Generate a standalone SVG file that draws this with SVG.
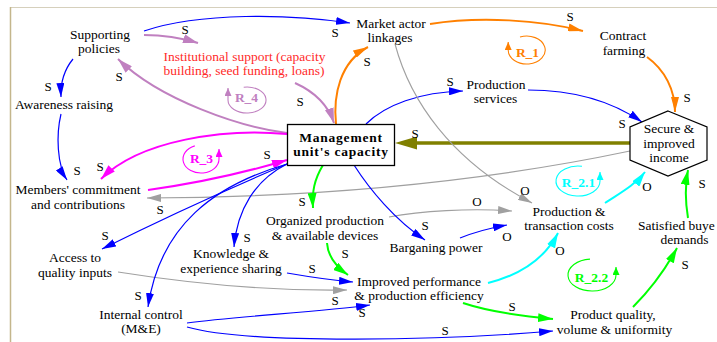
<svg xmlns="http://www.w3.org/2000/svg" width="717" height="342" viewBox="0 0 717 342" font-family="'Liberation Serif', 'Times New Roman', serif">
<style>
text{font-family:"Liberation Serif","Times New Roman",serif;font-size:13.5px;fill:#000;text-anchor:middle}
.lbl{font-size:13px}
.red{fill:#ff2a2a}
.bold{font-weight:bold;letter-spacing:0.8px}
.loop{font-weight:bold;font-size:13.5px}
.b{fill:none;stroke:#0000ff;stroke-width:1.2;marker-end:url(#ab)}
.o{fill:none;stroke:#ff8000;stroke-width:2;marker-end:url(#ao)}
.l{fill:none;stroke:#c080c0;stroke-width:2;marker-end:url(#al)}
.m{fill:none;stroke:#ff00ff;stroke-width:2;marker-end:url(#am)}
.g{fill:none;stroke:#00ff00;stroke-width:2;marker-end:url(#ag)}
.c{fill:none;stroke:#00ffff;stroke-width:2;marker-end:url(#ac)}
.y{fill:none;stroke:#a0a0a0;stroke-width:1.1;marker-end:url(#ay)}
.ol{fill:none;stroke:#808000;stroke-width:3.5;marker-end:url(#aol)}
.lp{fill:none;stroke-width:1.1}
</style>
<defs>
<marker id="ab" markerUnits="userSpaceOnUse" markerWidth="14" markerHeight="8" refX="14" refY="4" orient="auto"><path d="M0,0L14,4L0,8z" fill="#0000ff"/></marker>
<marker id="ao" markerUnits="userSpaceOnUse" markerWidth="15" markerHeight="8" refX="15" refY="4" orient="auto"><path d="M0,0L15,4L0,8z" fill="#ff8000"/></marker>
<marker id="al" markerUnits="userSpaceOnUse" markerWidth="15" markerHeight="9" refX="15" refY="4.5" orient="auto"><path d="M0,0L15,4.5L0,9z" fill="#c080c0"/></marker>
<marker id="am" markerUnits="userSpaceOnUse" markerWidth="15" markerHeight="9" refX="15" refY="4.5" orient="auto"><path d="M0,0L15,4.5L0,9z" fill="#ff00ff"/></marker>
<marker id="ag" markerUnits="userSpaceOnUse" markerWidth="15" markerHeight="9" refX="15" refY="4.5" orient="auto"><path d="M0,0L15,4.5L0,9z" fill="#00ff00"/></marker>
<marker id="ac" markerUnits="userSpaceOnUse" markerWidth="15" markerHeight="9" refX="15" refY="4.5" orient="auto"><path d="M0,0L15,4.5L0,9z" fill="#00ffff"/></marker>
<marker id="ay" markerUnits="userSpaceOnUse" markerWidth="14" markerHeight="8" refX="14" refY="4" orient="auto"><path d="M0,0L14,4L0,8z" fill="#a0a0a0"/></marker>
<marker id="aol" markerUnits="userSpaceOnUse" markerWidth="22" markerHeight="13" refX="10" refY="6.5" orient="auto"><path d="M0,0L22,6.5L0,13z" fill="#808000"/></marker>
<marker id="so" markerUnits="userSpaceOnUse" markerWidth="8" markerHeight="7" refX="8" refY="3.5" orient="auto"><path d="M0,0L8,3.5L0,7z" fill="#ff8000"/></marker>
<marker id="sc" markerUnits="userSpaceOnUse" markerWidth="8" markerHeight="7" refX="8" refY="3.5" orient="auto"><path d="M0,0L8,3.5L0,7z" fill="#00ffff"/></marker>
<marker id="sg" markerUnits="userSpaceOnUse" markerWidth="8" markerHeight="7" refX="8" refY="3.5" orient="auto"><path d="M0,0L8,3.5L0,7z" fill="#00ff00"/></marker>
<marker id="sm" markerUnits="userSpaceOnUse" markerWidth="8" markerHeight="7" refX="8" refY="3.5" orient="auto"><path d="M0,0L8,3.5L0,7z" fill="#ff00ff"/></marker>
<marker id="sl" markerUnits="userSpaceOnUse" markerWidth="8" markerHeight="7" refX="8" refY="3.5" orient="auto"><path d="M0,0L8,3.5L0,7z" fill="#c080c0"/></marker>
</defs>
<rect x="0" y="0" width="717" height="342" fill="#ffffff"/>
<g id="frame">
<line x1="10" y1="7.5" x2="717" y2="7.5" stroke="#d6d0bc" stroke-width="1.2"/>
<line x1="10.5" y1="7" x2="10.5" y2="342" stroke="#c4b68c" stroke-width="1.5"/>
</g>
<g id="connectors">
<path class="b" d="M144,31 C200,12 290,14 350,23"/>
<path class="l" d="M144,35 Q172,35 198,43"/>
<path class="b" d="M73,59 Q60,75 61,97"/>
<path class="b" d="M61,114 C56,135 57,165 67,180"/>
<path class="l" d="M295,83 C315,92 328,105 334,123"/>
<path class="l" d="M287,133 C240,127 160,100 118,59"/>
<path class="m" d="M287,134 C225,128 140,140 101,179"/>
<path class="m" d="M148,190 Q220,180 287,160"/>
<path class="o" d="M336,124 C333,95 340,62 368,47"/>
<path class="o" d="M430,24 C480,16 540,20 583,31"/>
<path class="o" d="M647,57 C665,70 675,90 675,112"/>
<path class="b" d="M366,124 C385,105 420,92 463,91"/>
<path class="b" d="M528,90 C570,90 610,100 642,122"/>
<path class="ol" d="M630,143 L407,143"/>
<path class="y" d="M630,151 Q411,197 147,198"/>
<path class="y" d="M395,44 C410,100 450,160 532,203"/>
<path class="y" d="M389,217 C420,211 470,208 512,211"/>
<path class="b" d="M460,238 C475,232 490,228 507,225"/>
<path class="b" d="M354,165 C370,190 395,220 425,240"/>
<path class="c" d="M605,203 C620,193 635,185 645,172"/>
<path class="c" d="M488,283 C520,275 545,258 558,233"/>
<path class="g" d="M688,218 C685,200 685,185 688,170"/>
<path class="g" d="M633,307 C650,290 665,270 677,248"/>
<path class="g" d="M463,303 C490,312 520,316 553,319"/>
<path class="b" d="M187,327 C250,345 450,340 553,331"/>
<path class="b" d="M187,323 C240,316 320,312 370,305"/>
<path class="y" d="M118,272 C200,285 280,291 347,290"/>
<path class="b" d="M287,273 C310,277 330,280 353,282"/>
<path class="g" d="M327,243 C328,258 338,268 348,275"/>
<path class="g" d="M323,165 C314,180 312,192 313,208"/>
<path class="b" d="M287,164 Q190,205 102,249"/>
<path class="b" d="M287,164 C255,180 237,210 234,247"/>
<path class="b" d="M287,164 C215,185 160,225 148,307"/>
<g id="polarity">
<text class="lbl" x="185" y="34">S</text>
<text class="lbl" x="335" y="37">S</text>
<text class="lbl" x="48" y="90.5">S</text>
<text class="lbl" x="119" y="80.5">S</text>
<text class="lbl" x="300" y="106">S</text>
<text class="lbl" x="267" y="158.5">S</text>
<text class="lbl" x="77" y="174.5">S</text>
<text class="lbl" x="100" y="171">S</text>
<text class="lbl" x="160" y="213.5">S</text>
<text class="lbl" x="105" y="239.5">S</text>
<text class="lbl" x="247" y="242">S</text>
<text class="lbl" x="138" y="299.5">S</text>
<text class="lbl" x="302" y="206">S</text>
<text class="lbl" x="345" y="258">S</text>
<text class="lbl" x="312" y="272.5">S</text>
<text class="lbl" x="335" y="305">S</text>
<text class="lbl" x="362" y="316.5">S</text>
<text class="lbl" x="445" y="334.5">S</text>
<text class="lbl" x="425" y="229.5">S</text>
<text class="lbl" x="507" y="241">O</text>
<text class="lbl" x="477" y="206">O</text>
<text class="lbl" x="525" y="194.5">O</text>
<text class="lbl" x="560" y="255">O</text>
<text class="lbl" x="647" y="191">O</text>
<text class="lbl" x="702" y="187.5">S</text>
<text class="lbl" x="685" y="269">S</text>
<text class="lbl" x="512" y="311">S</text>
<text class="lbl" x="450" y="86">S</text>
<text class="lbl" x="622" y="128">S</text>
<text class="lbl" x="687" y="102">S</text>
<text class="lbl" x="570" y="21">S</text>
<text class="lbl" x="367" y="66">S</text>
<text class="lbl" x="415" y="138">S</text>
</g>
</g>
<g id="loops">
<g id="loop-R_1"><path class="lp" stroke="#ff8000" marker-end="url(#so)" d="M520,37 A18.5,14 0 1 1 508.2,50 L508.2,42"/><text class="loop" x="527.5" y="56.5" style="fill:#ff8000">R_1</text></g>
<g id="loop-R_2.1"><path class="lp" stroke="#00ffff" marker-end="url(#sc)" d="M582,166.3 A22,15 0 1 0 600,181 L600,172"/><text class="loop" x="578.5" y="186.5" style="fill:#00ffff">R_2.1</text></g>
<g id="loop-R_2.2"><path class="lp" stroke="#00ff00" marker-end="url(#sg)" d="M590,259.1 A24,16 0 1 0 616,275 L616,267"/><text class="loop" x="591.5" y="281.5" style="fill:#00ff00">R_2.2</text></g>
<g id="loop-R_3"><path class="lp" stroke="#ff00ff" marker-end="url(#sm)" d="M194.8,145.9 A18,14 0 1 0 219,159 L219,149"/><text class="loop" x="201.5" y="163" style="fill:#ff00ff">R_3</text></g>
<g id="loop-R_4"><path class="lp" stroke="#c080c0" marker-end="url(#sl)" d="M243.7,87.2 A19,13 0 1 1 228,100 L228,88"/><text class="loop" x="246.5" y="101.5" style="fill:#c080c0">R_4</text></g>
</g>
<g id="node-supporting-policies"><text x="100" y="38.5">Supporting</text><text x="99" y="53">policies</text></g>
<g id="node-institutional-support"><text class="red" x="244.5" y="60.5">Institutional support (capacity</text><text class="red" x="244" y="74.5">building, seed funding, loans)</text></g>
<g id="node-awareness-raising"><text x="64" y="108.5">Awareness raising</text></g>
<g id="node-market-actor-linkages"><text x="391" y="28">Market actor</text><text x="390" y="42">linkages</text></g>
<g id="node-contract-farming"><text x="623" y="40">Contract</text><text x="624" y="54.5">farming</text></g>
<g id="node-production-services"><text x="496" y="89">Production</text><text x="495.5" y="103">services</text></g>
<g id="node-secure-income"><polygon points="668,111 707,127 707,160 668,176 630,160 630,127" fill="#fff" stroke="#000" stroke-width="1.2"/><text x="669" y="133">Secure &amp;</text><text x="669" y="147.5">improved</text><text x="669" y="162">income</text></g>
<g id="node-management"><rect x="287.5" y="124.5" width="107" height="41" fill="#fff" stroke="#000" stroke-width="1.3"/><text class="bold" x="341" y="141.7">Management</text><text class="bold" x="341" y="155.5">unit's capacity</text></g>
<g id="node-members-commitment"><text x="78" y="194">Members' commitment</text><text x="78" y="209">and contributions</text></g>
<g id="node-access-inputs"><text x="75" y="262">Access to</text><text x="75" y="277">quality inputs</text></g>
<g id="node-knowledge"><text x="231" y="258">Knowledge &amp;</text><text x="231" y="273">experience sharing</text></g>
<g id="node-organized-production"><text x="325" y="225">Organized production</text><text x="325" y="240">&amp; available devices</text></g>
<g id="node-internal-control"><text x="141" y="319">Internal control</text><text x="141" y="333">(M&amp;E)</text></g>
<g id="node-barganing-power"><text x="436" y="252">Barganing power</text></g>
<g id="node-costs"><text x="569" y="216">Production &amp;</text><text x="569" y="230">transaction costs</text></g>
<g id="node-satisfied-buyer"><text x="638" y="229.5" style="text-anchor:start">Satisfied buye</text><text x="684.5" y="244">demands</text></g>
<g id="node-improved-performance"><text x="419" y="286">Improved performance</text><text x="419" y="300">&amp; production efficiency</text></g>
<g id="node-product-quality"><text x="613" y="318.5">Product quality,</text><text x="614.5" y="333.5">volume &amp; uniformity</text></g>
</svg>
